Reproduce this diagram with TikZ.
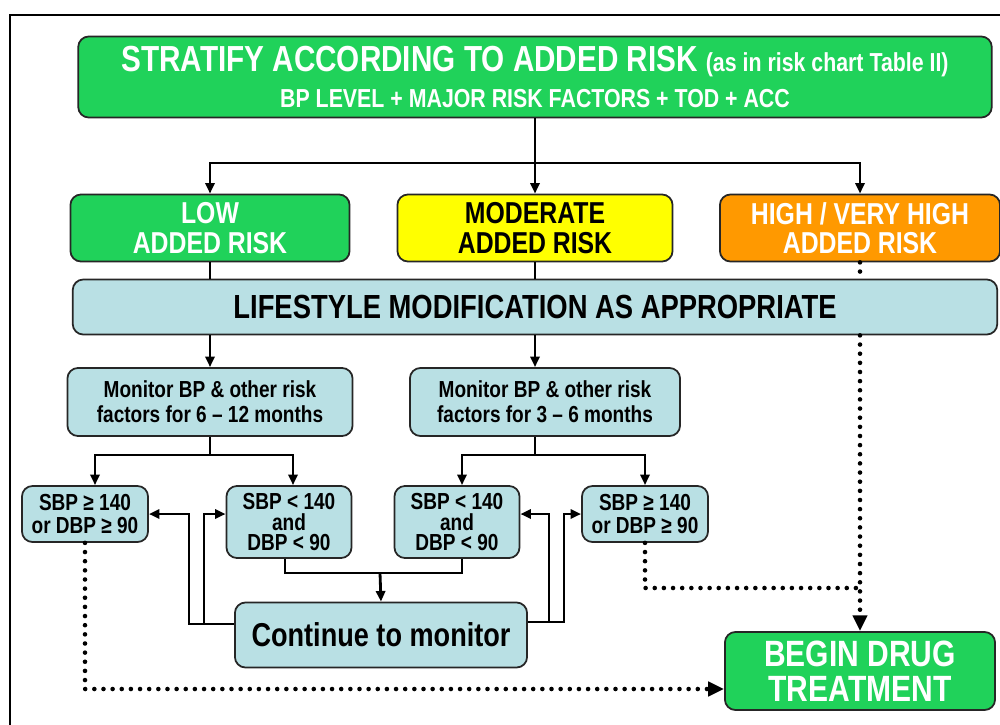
\documentclass[tikz,border=0pt]{standalone}
\usepackage{fontspec}
\setmainfont{Liberation Sans}[FakeStretch=0.82]
\usetikzlibrary{arrows.meta,calc,positioning}
\definecolor{riskgreen}{RGB}{32,210,90}
\definecolor{riskyellow}{RGB}{255,255,0}
\definecolor{riskorange}{RGB}{255,153,0}
\definecolor{lifeblue}{RGB}{185,224,228}
\newcommand{\fs}[2]{\fontsize{#1}{#2}\selectfont}
\tikzset{
  % rounded box
  rbox/.style={rectangle, rounded corners=3pt, draw=black!85, line width=0.5pt, fill=#1,
               align=center, inner sep=1pt, font=\bfseries},
  rbox/.default={lifeblue},
  % text sizes
  txt/.style 2 args={font=\bfseries\fs{#1}{#2}},
  % solid connector
  flow/.style={line width=0.8pt},
  flowarrow/.style={flow, -{Triangle[length=3pt,width=2.6pt]}},
  % dotted connector
  dotline/.style={line width=1.3pt, line cap=round, dash pattern=on 0pt off 2.6pt},
  dotarrow/.style={dotline, -{Triangle[length=4.5pt,width=4pt]}},
}

\begin{document}
\begin{tikzpicture}[x=0.01cm, y=-0.01cm]
  \useasboundingbox (0,0) rectangle (1000,724);
  % frame
  \draw[line width=0.6pt] (10,730) -- (10,15) -- (1005,15);

  % ═══════ STRATIFY ═══════
  \node[rbox=riskgreen, text=white, minimum width=9.13cm, minimum height=0.81cm] (stratify) at (535,77)
    {{\fs{10.3}{11}STRATIFY ACCORDING TO ADDED RISK} {\fs{7.4}{11}(as in risk chart Table II)}\\[-1.5pt]
     {\fs{7.4}{8.5}BP LEVEL + MAJOR RISK FACTORS + TOD + ACC}};

  % ═══════ RISK LEVELS ═══════
  \node[rbox=riskgreen, text=white, txt={8.6}{8.4}, minimum width=2.79cm, minimum height=0.67cm] (low) at (210,228)
    {LOW\\ADDED RISK};
  \node[rbox=riskyellow, text=black, txt={8.6}{8.4}, minimum width=2.75cm, minimum height=0.67cm] (moderate) at (535,228)
    {MODERATE\\ADDED RISK};
  \node[rbox=riskorange, text=white, txt={8.6}{8.4}, minimum width=2.80cm, minimum height=0.67cm] (high) at (860,228)
    {HIGH / VERY HIGH\\ADDED RISK};

  \node[rbox, txt={9.5}{10}, minimum width=9.24cm, minimum height=0.55cm] (lifestyle) at (535,307)
    {LIFESTYLE MODIFICATION AS APPROPRIATE};

  % ═══════ MONITORING ═══════
  \node[rbox, txt={6.6}{7}, minimum width=2.85cm, minimum height=0.68cm] (mon1) at (210,402)
    {Monitor BP \& other risk\\factors for 6 -- 12 months};
  \node[rbox, txt={6.6}{7}, minimum width=2.70cm, minimum height=0.68cm] (mon2) at (545,402)
    {Monitor BP \& other risk\\factors for 3 -- 6 months};

  % ═══════ BP OUTCOMES ═══════
  \node[rbox, txt={6.6}{6.6}, minimum width=1.26cm, minimum height=0.56cm] (hiL) at (85,514)
    {SBP ≥ 140\\or DBP ≥ 90};
  \node[rbox, txt={6.6}{5.9}, minimum width=1.25cm, minimum height=0.72cm] (loL) at (289,522)
    {SBP < 140\\and\\DBP < 90};
  \node[rbox, txt={6.6}{5.9}, minimum width=1.25cm, minimum height=0.72cm] (loR) at (457,522)
    {SBP < 140\\and\\DBP < 90};
  \node[rbox, txt={6.6}{6.6}, minimum width=1.26cm, minimum height=0.56cm] (hiR) at (645,514)
    {SBP ≥ 140\\or DBP ≥ 90};

  \node[rbox, txt={9.4}{10}, minimum width=2.92cm, minimum height=0.65cm] (cont) at (381,635)
    {Continue to monitor};
  \node[rbox=riskgreen, text=white, txt={10.4}{9.8}, minimum width=2.70cm, minimum height=0.78cm] (drug) at (860,671)
    {BEGIN DRUG\\TREATMENT};

  % ═══════ CONNECTORS ═══════
  \coordinate (sj) at (535,163);
  \draw[flow] (stratify.south) -- (sj);
  \draw[flowarrow] (sj) -| (low.north);
  \draw[flowarrow] (sj) -- (moderate.north);
  \draw[flowarrow] (sj) -| (high.north);

  \draw[flow] (low.south) -- (low.south |- lifestyle.north);
  \draw[flow] (moderate.south) -- (moderate.south |- lifestyle.north);
  \draw[dotline] (high.south) -- (high.south |- lifestyle.north);

  \draw[flowarrow] (low.south |- lifestyle.south) -- (mon1.north);
  \draw[flowarrow] (moderate.south |- lifestyle.south) -- (moderate.south |- mon2.north);

  % split after monitoring
  \coordinate (m1j) at (210,455);
  \draw[flow] (mon1.south) -- (m1j);
  \draw[flowarrow] (m1j) -| ($(hiL.north)+(10,0)$);
  \draw[flowarrow] (m1j) -| ($(loL.north)+(4,0)$);
  \coordinate (m2j) at (535,455);
  \draw[flow] (moderate.south |- mon2.south) -- (m2j);
  \draw[flowarrow] (m2j) -| ($(loR.north)+(5,0)$);
  \draw[flowarrow] (m2j) -| (hiR.north);

  % normal BP -> continue to monitor
  \coordinate (cj) at (380,573);
  \draw[flow] ($(loL.south)+(-4,0)$) |- (cj) -| ($(loR.south)+(5,0)$);
  \draw[flowarrow] (cj) -- (cont.north);

  % continue to monitor -> back to BP checks
  \draw[flowarrow] ($(cont.west)+(0,-11)$) -- ++(-45,0) |- (hiL.east);
  \draw[flowarrow] ($(cont.west)+(-30,-11)$) |- ($(loL.west)+(0,-8)$);
  \draw[flowarrow] ($(cont.east)+(0,-13)$) -- ++(36,0) |- (hiR.west);
  \draw[flowarrow] ($(cont.east)+(21,-13)$) |- ($(loR.east)+(0,-8)$);

  % raised BP -> drug treatment
  \coordinate (dj) at (858,588);
  \draw[dotline] (hiR.south) |- (dj);
  \draw[dotarrow] (high.south |- lifestyle.south) -- (drug.north);
  \draw[dotarrow] (hiL.south) |- ($(drug.west)+(0,18)$);

\end{tikzpicture}
\end{document}
